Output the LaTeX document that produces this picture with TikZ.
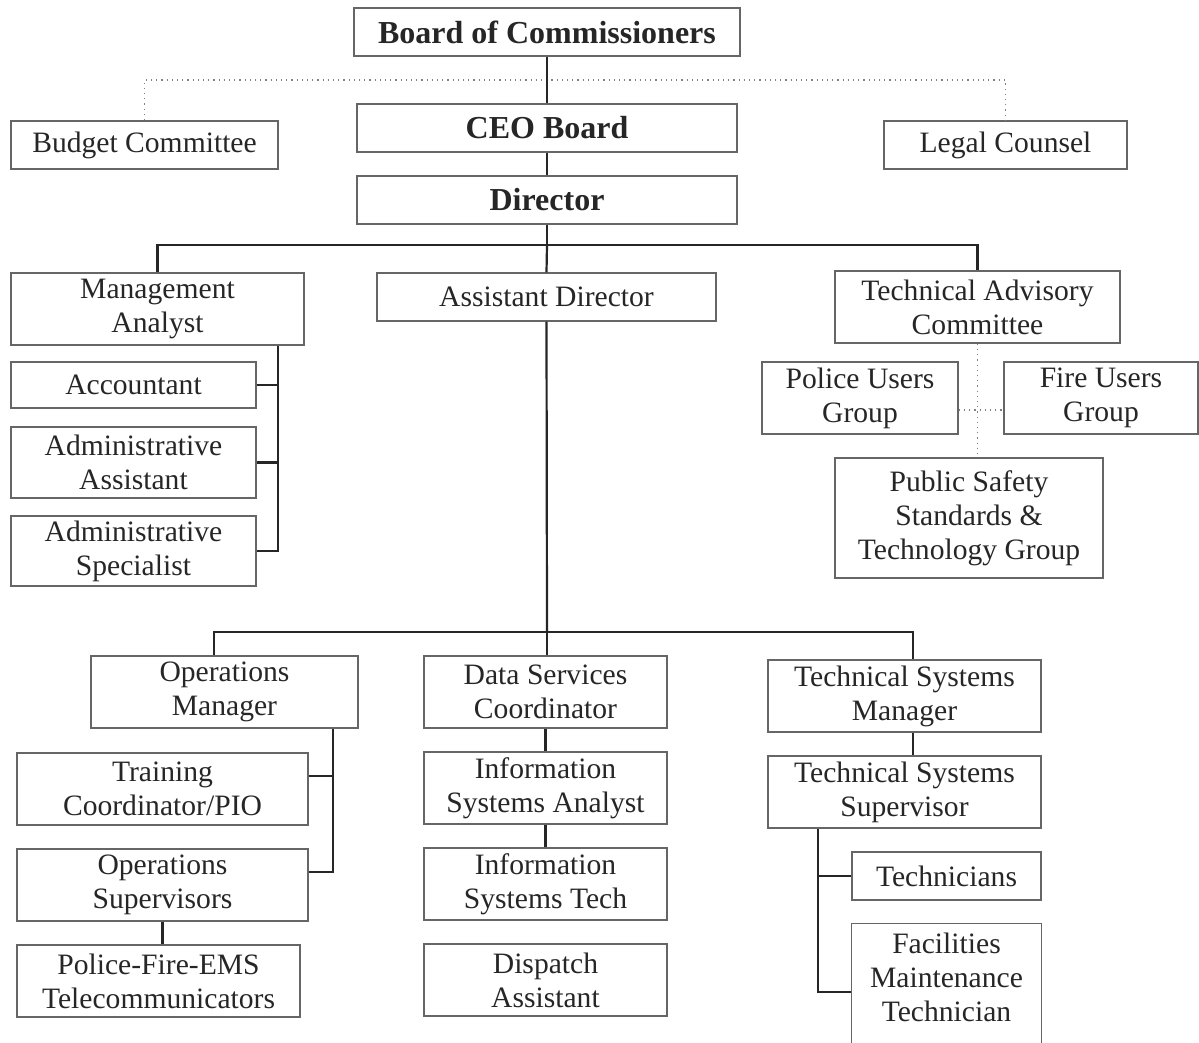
\documentclass[tikz,border=0pt]{standalone}
\usepackage{fontspec}
\setmainfont{Liberation Serif}

\tikzset{
  boxline/.style={draw=black!60, line width=0.7pt},
  box/.style={boxline, align=center, inner sep=0pt, text=black!85,
    font=\fontsize{14.8}{17}\selectfont},
  head/.style={box, font=\fontsize{16}{19}\selectfont\bfseries},
  link/.style={draw=black!85, line width=1.1pt},
  dotline/.style={draw=black!50, line width=0.6pt, dotted},
}

\begin{document}
\begin{tikzpicture}[x=0.5pt, y=-0.5pt]
\useasboundingbox (0,0) rectangle (1199,1043);

\node[head, minimum width=193pt, minimum height=24pt] (board) at (547,32) {Board of Commissioners};
\node[head, minimum width=190pt, minimum height=24pt] (ceo) at (547,128) {CEO Board};
\node[head, minimum width=190pt, minimum height=24pt] (director) at (547,200) {Director};
\node[box, minimum width=133.5pt, minimum height=24pt] (budget) at (144.5,145) {Budget Committee};
\node[box, minimum width=121.5pt, minimum height=24pt] (legal) at (1005.5,145) {Legal Counsel};

\node[box, minimum width=146.5pt, minimum height=36pt] (mgmt) at (157.5,309) {Management\\Analyst};
\node[box, minimum width=169.5pt, minimum height=24pt] (asst) at (546.5,297) {Assistant Director};
\node[box, minimum width=142.5pt, minimum height=36pt] (tac) at (977.5,307) {Technical Advisory\\Committee};

\node[box, minimum width=122.5pt, minimum height=23pt] (accountant) at (133.5,385) {Accountant};
\node[box, minimum width=122.5pt, minimum height=35.5pt] (adminasst) at (133.5,462.5) {Administrative\\Assistant};
\node[box, minimum width=122.5pt, minimum height=35pt] (adminspec) at (133.5,551) {Administrative\\Specialist};

\node[box, minimum width=98pt, minimum height=36pt] (police) at (860,398) {Police Users\\Group};
\node[box, minimum width=97pt, minimum height=36pt] (fire) at (1101,398) {Fire Users\\Group};
\node[box, minimum width=134pt, minimum height=60pt] (pssg) at (969,518) {Public Safety\\Standards \&\\Technology Group};

\node[box, minimum width=133.5pt, minimum height=36pt] (opsmgr) at (224.5,692) {Operations\\Manager};
\node[box, minimum width=121.5pt, minimum height=36pt] (dsc) at (545.5,692) {Data Services\\Coordinator};
\node[box, minimum width=136.5pt, minimum height=36pt] (tsm) at (904.5,696) {Technical Systems\\Manager};

\node[box, minimum width=145.5pt, minimum height=36pt] (training) at (162.5,789) {Training\\Coordinator/PIO};
\node[box, minimum width=145.5pt, minimum height=36pt] (opssup) at (162.5,885) {Operations\\Supervisors};
\node[box, minimum width=141.5pt, minimum height=36pt] (pfe) at (158.5,981) {Police-Fire-EMS\\Telecommunicators};

\node[box, minimum width=121.5pt, minimum height=36pt] (isa) at (545.5,788) {Information\\Systems Analyst};
\node[box, minimum width=121.5pt, minimum height=36pt] (ist) at (545.5,884) {Information\\Systems Tech};
\node[box, minimum width=121.5pt, minimum height=36pt] (dispatch) at (545.5,980) {Dispatch\\Assistant};

\node[box, minimum width=136.5pt, minimum height=36pt] (tss) at (904.5,792) {Technical Systems\\Supervisor};
\node[box, minimum width=94.5pt, minimum height=24pt] (technicians) at (946.5,876) {Technicians};
\node[box, draw=none, minimum width=94.5pt, minimum height=53pt] (fmt) at (946.5,977) {Facilities\\Maintenance\\Technician};

\coordinate (pagebot) at (0,1043);
\coordinate (dotbar) at (547,80);
\coordinate (bar1) at (547,245);
\coordinate (bar2) at (547,632);
\coordinate (bar2l) at (214,632);
\coordinate (bar2r) at (913,632);
\coordinate (mabus) at (278,0);
\coordinate (opsbus) at (333,0);
\coordinate (tsbus) at (818,0);

\draw[boxline] (fmt.south west |- pagebot) -- (fmt.north west) -- (fmt.north east) -- (fmt.south east |- pagebot);

\draw[dotline] (budget.north) |- (dotbar) -| (legal.north);
\draw[link] (board.south) -- (ceo.north);
\draw[link] (ceo.south) -- (director.north);
\draw[link] (director.south) -- (bar1);
\draw[link] (mgmt.north) |- (bar1) -| (tac.north);
\draw[link] (bar1) -- (asst.north);

\draw[link] (mabus |- mgmt.south) |- (adminspec.east);
\draw[link] (accountant.east) -- (accountant.east -| mabus);
\draw[link] (adminasst.east) -- (adminasst.east -| mabus);

\draw[dotline] (tac.south) -- (tac.south |- pssg.north);
\draw[dotline] ([yshift=-6pt]police.east) -- ([yshift=-6pt]fire.west);

\draw[link] (asst.south) -- (bar2);
\draw[link] (bar2l |- opsmgr.north) -- (bar2l) -- (bar2r) -- (bar2r |- tsm.north);
\draw[link] (bar2) -- (bar2 |- dsc.north);

\draw[link] (opsbus |- opsmgr.south) |- ([yshift=6.5pt]opssup.east);
\draw[link] ([yshift=6.5pt]training.east) -- ([yshift=6.5pt]training.east -| opsbus);
\draw[link] (opssup.south) -- (opssup.south |- pfe.north);

\draw[link] (dsc.south) -- (isa.north);
\draw[link] (isa.south) -- (ist.north);

\draw[link] (bar2r |- tsm.south) -- (bar2r |- tss.north);
\draw[link] (tsbus |- tss.south) |- ([yshift=-7.5pt]fmt.west);
\draw[link] (technicians.west) -- (technicians.west -| tsbus);
\end{tikzpicture}
\end{document}
